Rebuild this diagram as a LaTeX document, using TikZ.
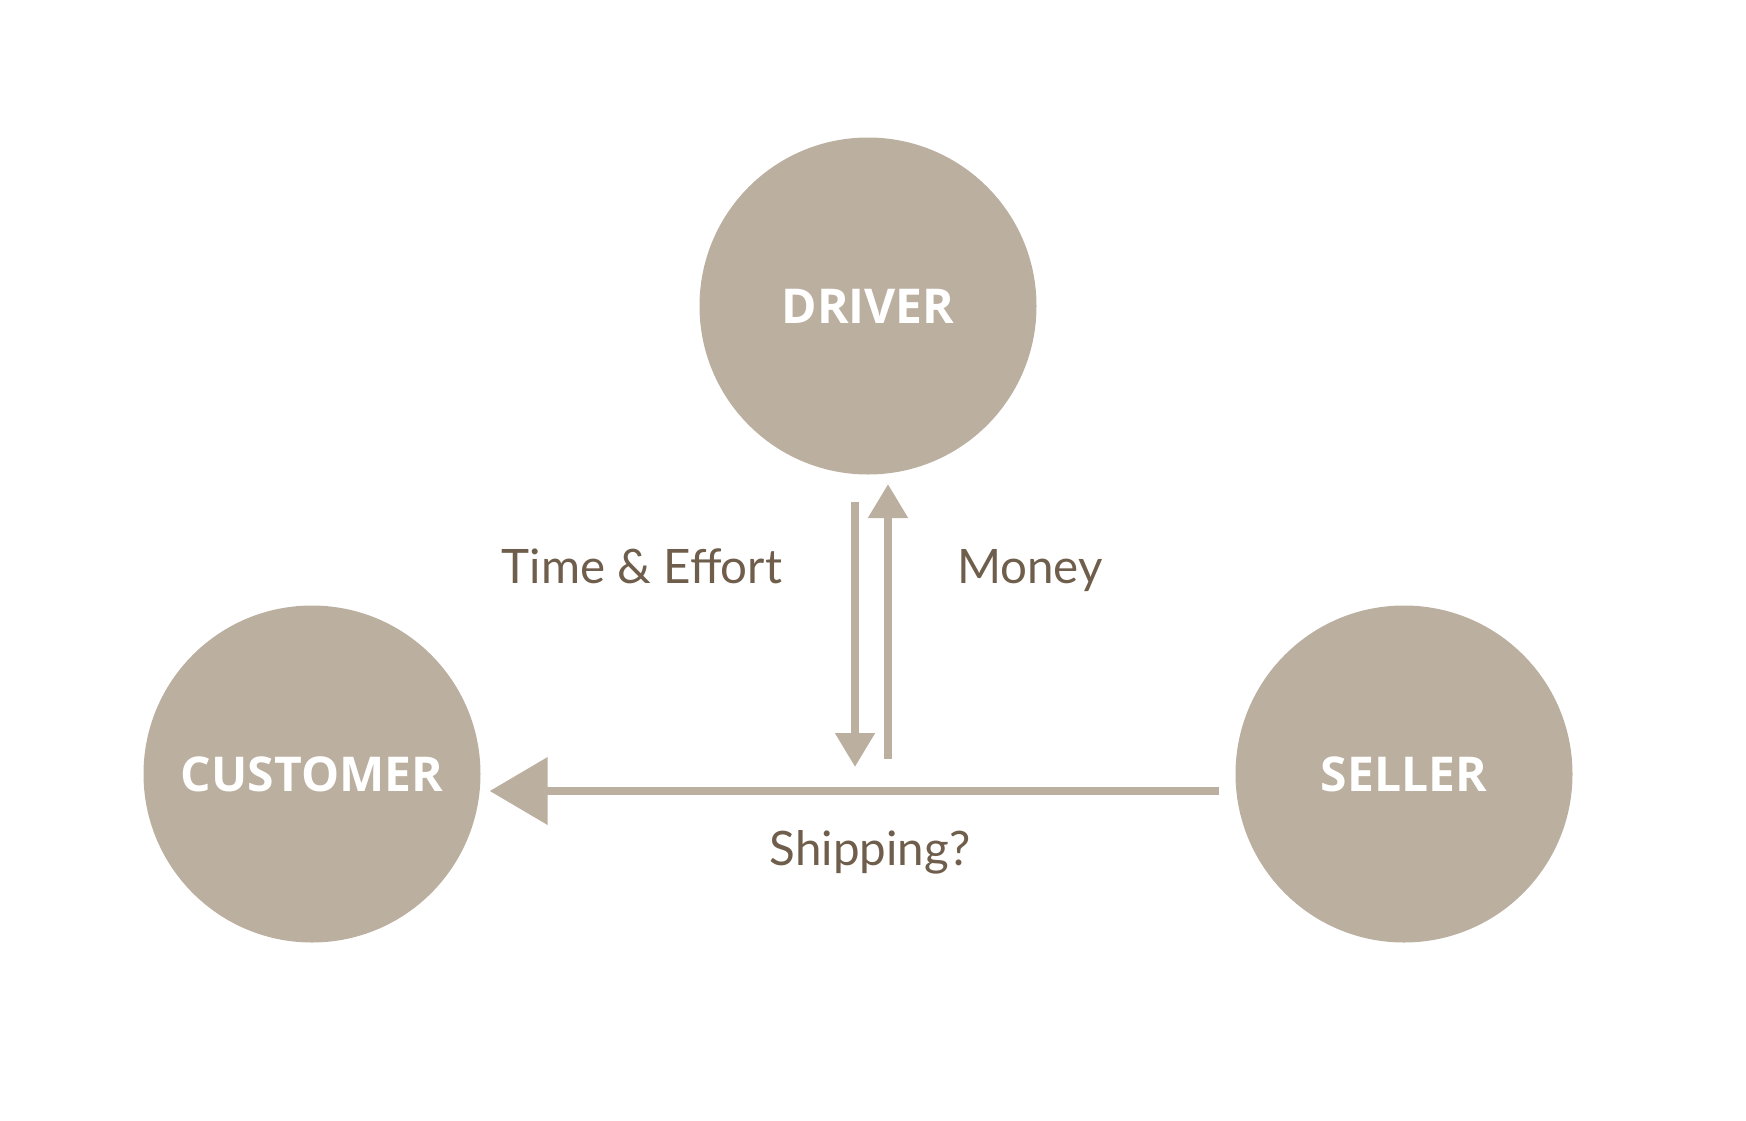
\documentclass[tikz,border=0pt]{standalone}
\usepackage{fontspec}
\setmainfont{Lato}
\newfontfamily\heavyfont{Open Sans}
\usetikzlibrary{arrows.meta}
\definecolor{circ}{HTML}{BBAFA0}
\definecolor{lbl}{HTML}{6E5E4B}
\begin{document}
\begin{tikzpicture}[x=1pt,y=-1pt,
  party/.style={circle,fill=circ,draw=none,minimum size=337pt,inner sep=0pt,
    text=white,font=\heavyfont\bfseries\fontsize{48}{48}\selectfont},
  lab/.style={anchor=base,text=lbl,inner sep=0pt,font=\fontsize{47.5}{48}\selectfont},
  varr/.style={draw=circ,line width=8pt,-{Triangle[width=38pt,length=34pt]}},
  harr/.style={draw=circ,line width=8pt,-{Triangle[width=66pt,length=58pt]}}]
\useasboundingbox (0,0) rectangle (1746,1120);
\node[party] (drv) at (868,306) {DRIVER};
\node[party] (cus) at (312,774) {CUSTOMER};
\node[party] (sel) at (1404,774) {SELLER};
\coordinate (dtop) at (855,502);
\coordinate (dbot) at (855,767);
\coordinate (ubot) at (888,759);
\coordinate (utop) at (888,484);
\draw[varr] (dtop) -- (dbot);
\draw[varr] (ubot) -- (utop);
\draw[harr,shorten <=16pt,shorten >=9pt] (sel.west |- 0,791) -- (cus.east |- 0,791);
\node[lab] (te) at (642,583) {Time \& Effort};
\node[lab] (mo) at (1030,583) {Money};
\node[lab] (sh) at (870,865) {Shipping?};
\end{tikzpicture}
\end{document}
